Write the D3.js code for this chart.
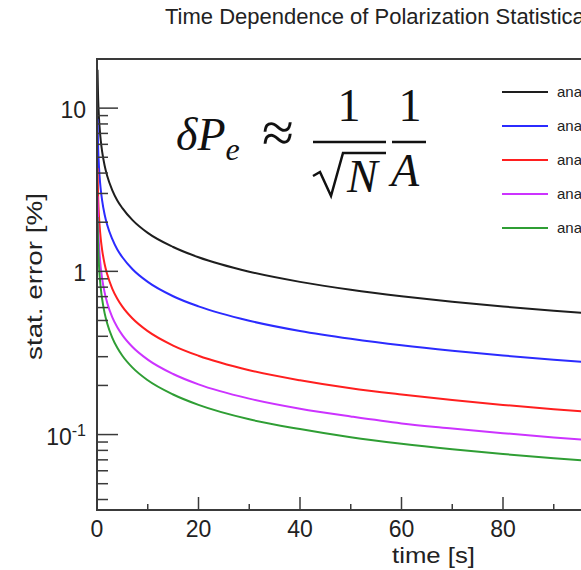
<!DOCTYPE html>
<html>
<head>
<meta charset="utf-8">
<script src="https://cdn.jsdelivr.net/npm/d3@7"></script>
<style>
body { margin: 0; background: #fff; overflow: hidden; }
svg { display: block; }
</style>
</head>
<body>
<svg id="chart" width="581" height="570"></svg>
<script>
// values (stat. error in %, time in s)
var times = [0.1, 0.2, 0.3, 0.5, 0.75, 1, 1.5, 2, 3, 4, 5, 7, 10, 15, 20, 30, 40, 50, 60, 70, 80, 90, 100];

var errA005 = [17.2, 12.2, 9.95, 7.7, 6.3, 5.45, 4.45, 3.85, 3.15, 2.72, 2.44, 2.06, 1.72, 1.41, 1.22, 0.995, 0.862, 0.771, 0.704, 0.651, 0.609, 0.574, 0.545];
var errA01 = [8.6, 6.1, 4.98, 3.85, 3.15, 2.73, 2.23, 1.93, 1.58, 1.36, 1.22, 1.03, 0.862, 0.704, 0.61, 0.498, 0.431, 0.386, 0.352, 0.326, 0.305, 0.287, 0.273];
var errA02 = [4.3, 3.04, 2.48, 1.92, 1.57, 1.36, 1.11, 0.962, 0.785, 0.68, 0.608, 0.514, 0.43, 0.351, 0.304, 0.248, 0.215, 0.192, 0.176, 0.163, 0.152, 0.143, 0.136];
var errA03 = [2.88, 2.03, 1.66, 1.29, 1.05, 0.91, 0.743, 0.643, 0.525, 0.455, 0.407, 0.344, 0.288, 0.235, 0.203, 0.166, 0.144, 0.129, 0.117, 0.109, 0.102, 0.0959, 0.091];
var errA04 = [2.15, 1.52, 1.24, 0.962, 0.785, 0.68, 0.555, 0.481, 0.393, 0.34, 0.304, 0.257, 0.215, 0.176, 0.152, 0.124, 0.108, 0.0962, 0.0878, 0.0813, 0.076, 0.0717, 0.068];

var seriesLabels = ["analyzing power 0.05", "analyzing power 0.1", "analyzing power 0.2", "analyzing power 0.3", "analyzing power 0.4"];
var seriesValues = [errA005, errA01, errA02, errA03, errA04];

var xMajorTicks = [0, 20, 40, 60, 80];
var xMinorTicks = [10, 30, 50, 70, 90];
var yMajorTicks = [0.1, 1, 10];
var yMinorTicks = [0.04, 0.05, 0.06, 0.07, 0.08, 0.09, 0.2, 0.3, 0.4, 0.5, 0.6, 0.7, 0.8, 0.9, 2, 3, 4, 5, 6, 7, 8, 9, 20];

var titleText = "Time Dependence of Polarization Statistical Error";

// styles
var lineColors = ["#1e1e1e", "#2b2bff", "#ff1f1f", "#cc33ff", "#2f9e34"];
var FONT = "'Liberation Sans', Arial, Helvetica, sans-serif";
var MATH = "'Liberation Serif', 'DejaVu Serif', serif";

var frame = { left: 97, top: 59, bottom: 510, right: 604.5 };

var svg = d3.select("#chart");

var x = d3.scaleLinear().domain([0, 100]).range([frame.left, frame.right]);
var y = d3.scaleLog().domain([0.0345, 20]).range([frame.bottom, frame.top]);

// title
svg.append("text")
    .attr("x", 165).attr("y", 24)
    .attr("font-family", FONT).attr("font-size", 22)
    .attr("fill", "#222")
    .text(titleText);

var plot = svg.append("g");

// curves
var line = d3.line()
    .x(function(d) { return x(d[0]); })
    .y(function(d) { return y(d[1]); })
    .curve(d3.curveMonotoneX);

plot.selectAll("path.curve")
    .data(seriesValues)
    .enter().append("path")
    .attr("class", "curve")
    .attr("fill", "none")
    .attr("stroke", function(d, i) { return lineColors[i]; })
    .attr("stroke-width", 2)
    .attr("d", function(vals) {
        return line(times.map(function(t, j) { return [t, vals[j]]; }));
    });

// frame
svg.append("path")
    .attr("fill", "none")
    .attr("stroke", "#3a3a3a")
    .attr("stroke-width", 2)
    .attr("d", "M" + frame.right + "," + frame.top + "H" + frame.left + "V" + frame.bottom + "H" + frame.right);

// y ticks (drawn inward from the left frame)
svg.selectAll("line.ymaj").data(yMajorTicks).enter().append("line")
    .attr("x1", frame.left).attr("x2", frame.left + 21)
    .attr("y1", function(d) { return y(d); }).attr("y2", function(d) { return y(d); })
    .attr("stroke", "#3a3a3a").attr("stroke-width", 1.5);

svg.selectAll("line.ymin").data(yMinorTicks).enter().append("line")
    .attr("x1", frame.left).attr("x2", frame.left + 11)
    .attr("y1", function(d) { return y(d); }).attr("y2", function(d) { return y(d); })
    .attr("stroke", "#3a3a3a").attr("stroke-width", 1.5);

// x ticks
svg.selectAll("line.xmaj").data(xMajorTicks).enter().append("line")
    .attr("x1", function(d) { return x(d); }).attr("x2", function(d) { return x(d); })
    .attr("y1", frame.bottom).attr("y2", frame.bottom - 13)
    .attr("stroke", "#3a3a3a").attr("stroke-width", 1.5);

svg.selectAll("line.xmin").data(xMinorTicks).enter().append("line")
    .attr("x1", function(d) { return x(d); }).attr("x2", function(d) { return x(d); })
    .attr("y1", frame.bottom).attr("y2", frame.bottom - 6)
    .attr("stroke", "#3a3a3a").attr("stroke-width", 1.5);

// x tick labels
svg.selectAll("text.xlab").data(xMajorTicks).enter().append("text")
    .attr("x", function(d) { return x(d); })
    .attr("y", 537)
    .attr("text-anchor", "middle")
    .attr("font-family", FONT).attr("font-size", 23)
    .attr("fill", "#222")
    .text(function(d) { return d; });

// y tick labels
var ylab = svg.selectAll("text.ylab").data(yMajorTicks).enter().append("text")
    .attr("x", 86)
    .attr("y", function(d) { return y(d) + 10; })
    .attr("text-anchor", "end")
    .attr("font-family", FONT).attr("font-size", 23)
    .attr("fill", "#222");
ylab.each(function(d) {
    var t = d3.select(this);
    if (d < 1) {
        t.append("tspan").text("10");
        t.append("tspan").attr("dy", -9).attr("font-size", 16).text(String(Math.round(Math.log10(d))));
    } else {
        t.text(d);
    }
});

// axis titles
svg.append("text")
    .attr("x", 475).attr("y", 563)
    .attr("text-anchor", "end")
    .attr("font-family", FONT).attr("font-size", 22)
    .attr("fill", "#222")
    .attr("textLength", 83).attr("lengthAdjust", "spacingAndGlyphs")
    .text("time [s]");

svg.append("text")
    .attr("transform", "translate(42,360) rotate(-90)")
    .attr("font-family", FONT).attr("font-size", 22)
    .attr("fill", "#222")
    .attr("textLength", 167).attr("lengthAdjust", "spacingAndGlyphs")
    .text("stat. error [%]");

// legend
var legendX = 502, legendY = 92, legendStep = 34;
var legend = svg.append("g");
seriesLabels.forEach(function(lbl, i) {
    var yy = legendY + i * legendStep;
    legend.append("line")
        .attr("x1", legendX).attr("x2", legendX + 46)
        .attr("y1", yy).attr("y2", yy)
        .attr("stroke", lineColors[i]).attr("stroke-width", 2);
    legend.append("text")
        .attr("x", legendX + 55).attr("y", yy + 5)
        .attr("font-family", FONT).attr("font-size", 15)
        .attr("fill", "#222")
        .text(lbl);
});

// formula annotation: dP_e ~ 1/sqrt(N) * 1/A
var f = svg.append("g").attr("fill", "#111").attr("font-family", MATH);
var lhs = f.append("text").attr("x", 176).attr("y", 150).attr("font-size", 46).attr("font-style", "italic");
lhs.append("tspan").text("\u03b4P");
lhs.append("tspan").attr("dy", 10).attr("font-size", 32).text("e");
f.append("text").attr("x", 262).attr("y", 152).attr("font-size", 58).text("\u2248");
f.append("text").attr("x", 349).attr("y", 121).attr("text-anchor", "middle").attr("font-size", 46).text("1");
f.append("text").attr("x", 410).attr("y", 121).attr("text-anchor", "middle").attr("font-size", 46).text("1");
f.append("line").attr("x1", 313).attr("x2", 386).attr("y1", 142).attr("y2", 142).attr("stroke", "#111").attr("stroke-width", 2.5);
f.append("line").attr("x1", 392).attr("x2", 426).attr("y1", 142).attr("y2", 142).attr("stroke", "#111").attr("stroke-width", 2.5);
f.append("path")
    .attr("fill", "none").attr("stroke", "#111").attr("stroke-width", 2.5).attr("stroke-linejoin", "miter")
    .attr("d", "M313,176 L320,172 L331,196 L343,153 L386,153");
f.append("text").attr("x", 347).attr("y", 192).attr("font-size", 46).attr("font-style", "italic").text("N");
f.append("text").attr("x", 391).attr("y", 186).attr("font-size", 46).attr("font-style", "italic").text("A");
</script>
</body>
</html>
